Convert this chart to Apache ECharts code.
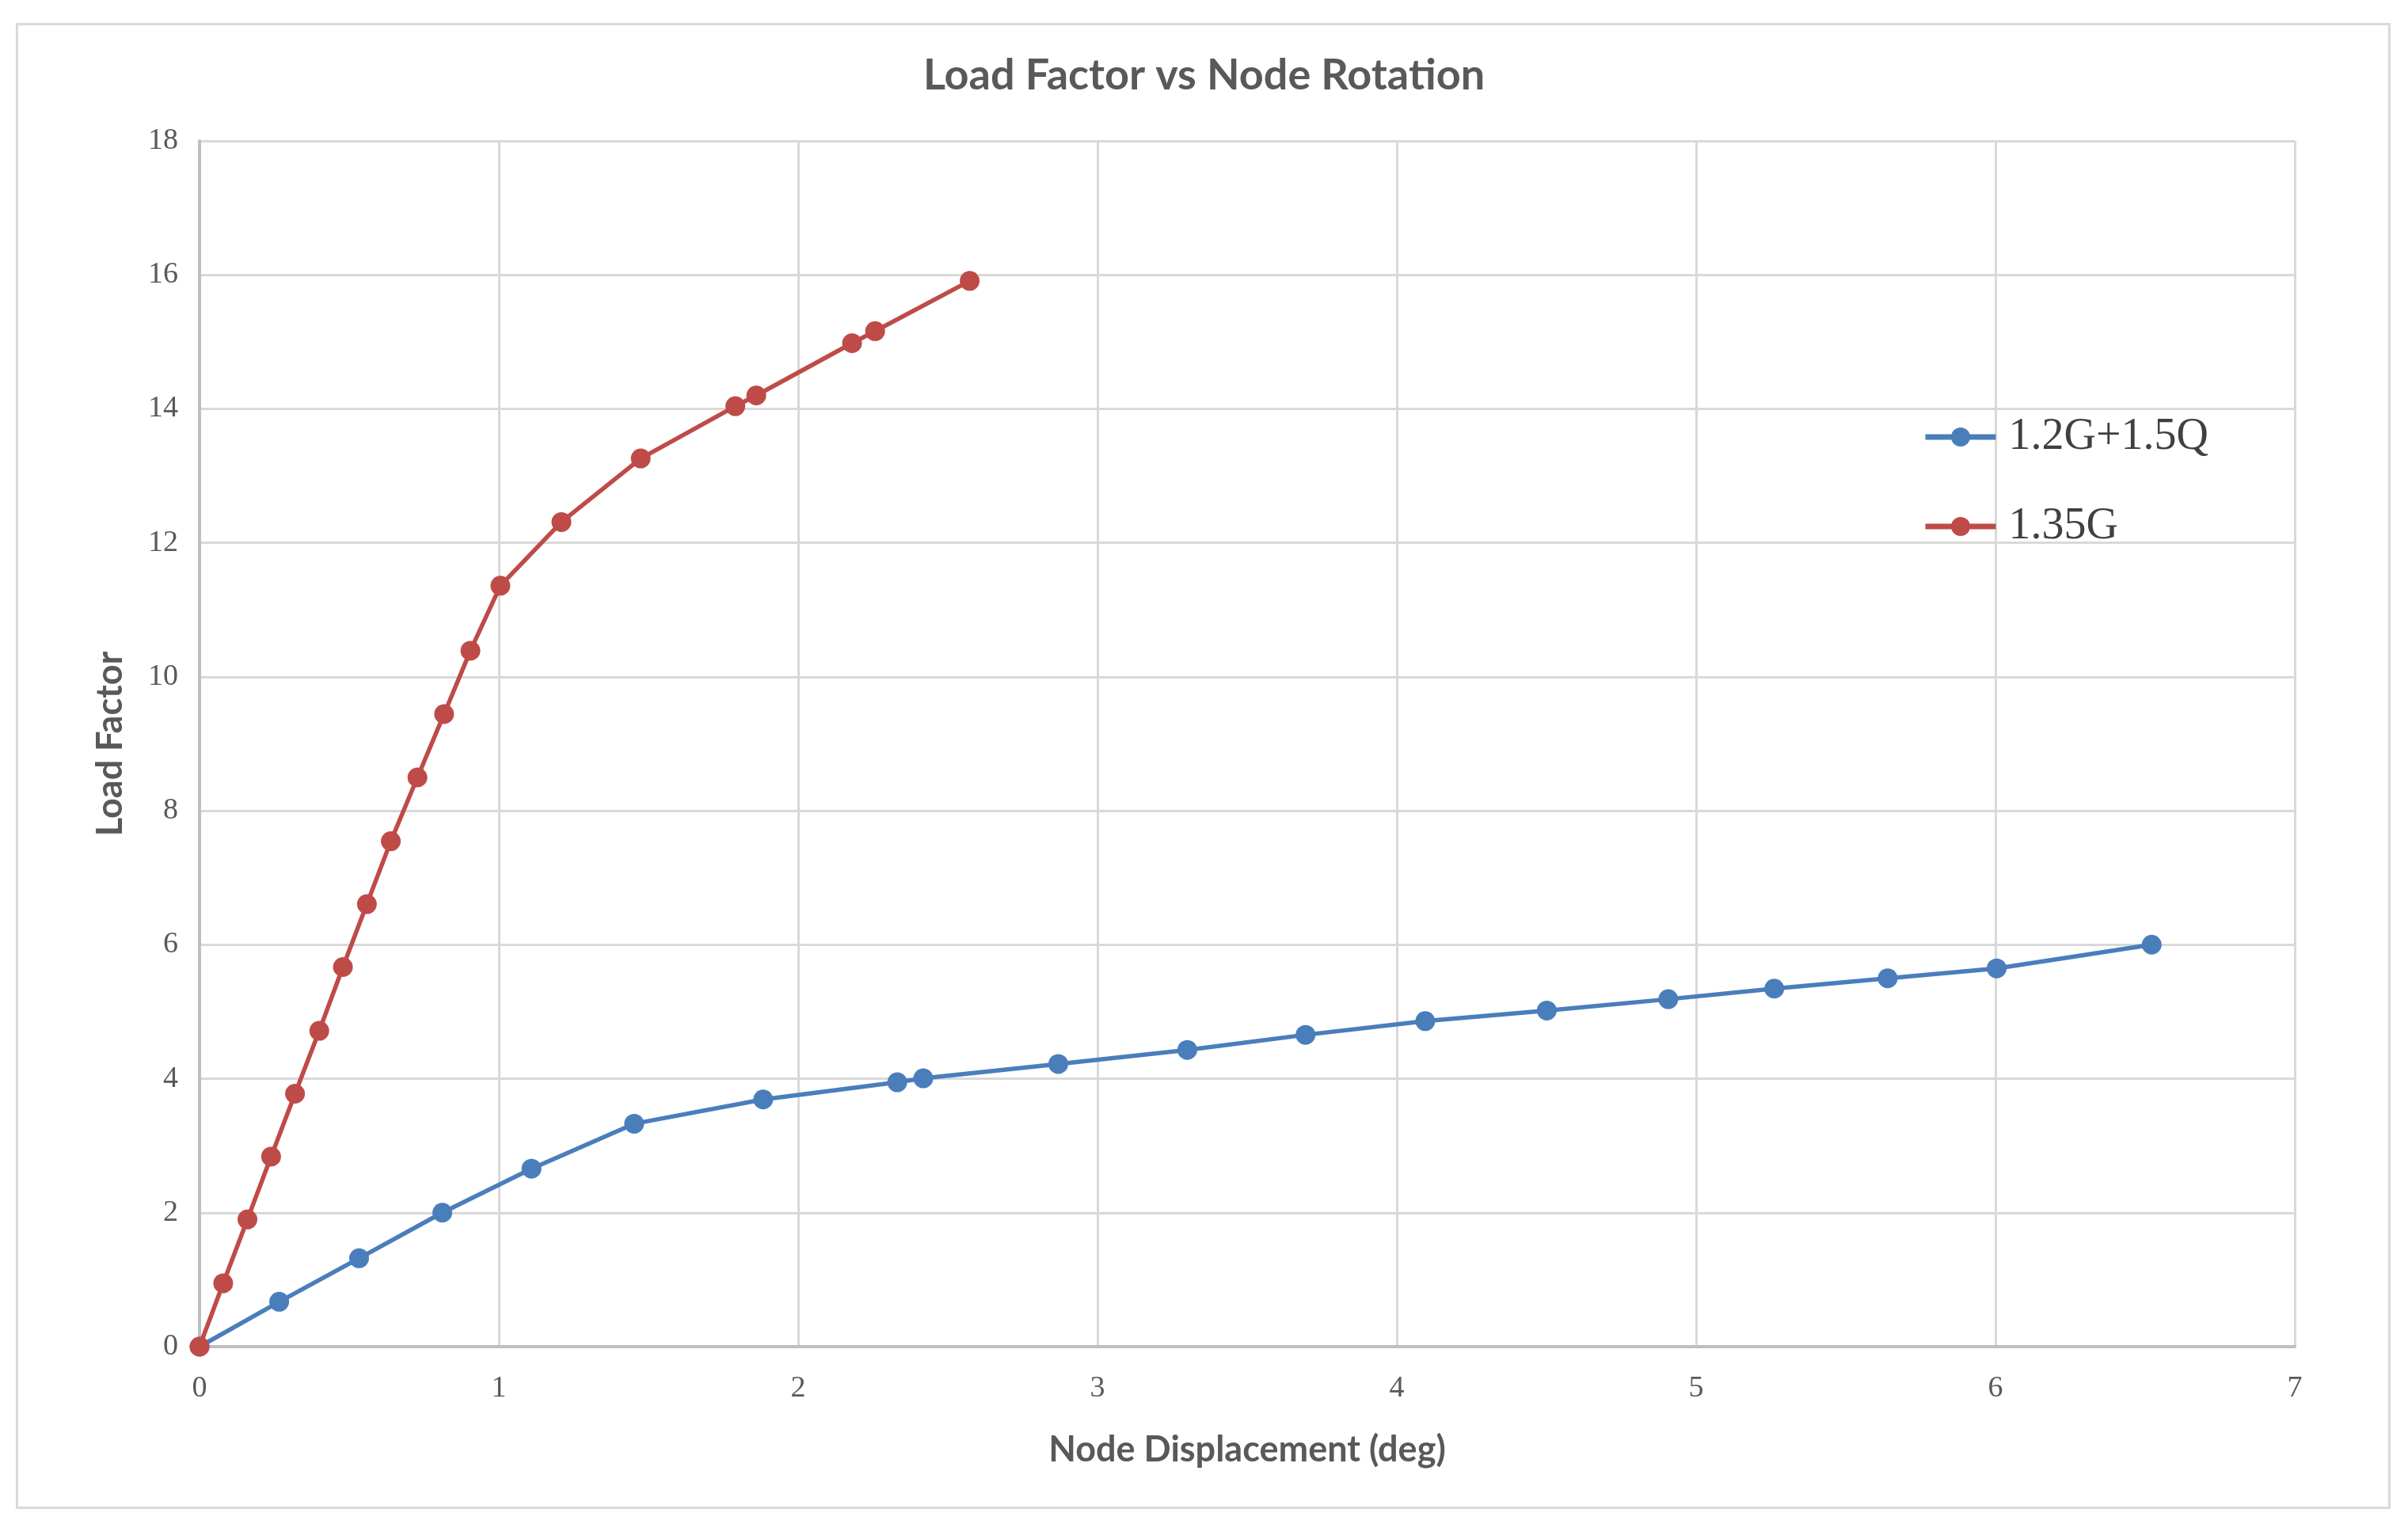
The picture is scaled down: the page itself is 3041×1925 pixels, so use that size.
<!DOCTYPE html>
<html><head><meta charset="utf-8">
<script src="https://cdn.jsdelivr.net/npm/echarts@6/dist/echarts.min.js"></script>
<style>html,body{margin:0;padding:0;background:#fff}#c{width:3041px;height:1925px}</style>
</head><body><div id="c"></div>
<script>
const chartTitle = 'Load Factor vs Node Rotation';
const xAxisName = 'Node Displacement (deg)';
const yAxisName = 'Load Factor';
const xTicks = [0, 1, 2, 3, 4, 5, 6, 7];
const yTicks = [0, 2, 4, 6, 8, 10, 12, 14, 16, 18];
const seriesNames = ['1.2G+1.5Q', '1.35G'];

const blueX = [0, 0.266, 0.533, 0.811, 1.109, 1.452, 1.883, 2.331, 2.418, 2.869, 3.30, 3.695, 4.095, 4.501, 4.907, 5.261, 5.64, 6.004, 6.522];
const blueY = [0, 0.67, 1.32, 2.00, 2.657, 3.328, 3.69, 3.947, 4.006, 4.22, 4.43, 4.655, 4.86, 5.018, 5.187, 5.345, 5.50, 5.647, 6.001];

const redX = [0, 0.079, 0.160, 0.239, 0.319, 0.400, 0.479, 0.559, 0.639, 0.728, 0.817, 0.905, 1.005, 1.209, 1.474, 1.790, 1.860, 2.180, 2.257, 2.573];
const redY = [0, 0.946, 1.899, 2.837, 3.776, 4.715, 5.667, 6.606, 7.545, 8.498, 9.444, 10.39, 11.36, 12.31, 13.26, 14.04, 14.20, 14.98, 15.16, 15.91];

const pairs = (xs, ys) => xs.map((x, i) => [x, ys[i]]);

const chart = echarts.init(document.getElementById('c'));
const labelFont = { fontFamily: 'Liberation Serif', fontSize: 38, color: '#595959' };
const nameFont = { fontFamily: 'Lato', fontWeight: 'bold', fontSize: 45, color: '#595959' };

chart.setOption({
  backgroundColor: '#ffffff',
  animation: false,
  graphic: [{
    type: 'rect', left: 19, top: 28, z: -1,
    shape: { width: 2996, height: 1874 },
    style: { fill: 'none', stroke: '#d9d9d9', lineWidth: 3 }
  }],
  title: {
    text: chartTitle, left: 'center', top: 64,
    textStyle: { fontFamily: 'Lato', fontWeight: 'bold', fontSize: 54, color: '#595959' }
  },
  legend: {
    data: seriesNames, orient: 'vertical', left: 2428, top: 524, padding: 0,
    itemWidth: 89, itemHeight: 30, itemGap: 57,
    lineStyle: { width: 7 },
    textStyle: { fontFamily: 'Liberation Serif', fontSize: 56, color: '#404040', padding: [0, 0, 0, 11] }
  },
  grid: { left: 252, right: 143, top: 178, bottom: 224, containLabel: false },
  xAxis: {
    type: 'value', min: xTicks[0], max: xTicks[xTicks.length - 1], interval: 1,
    name: xAxisName, nameLocation: 'middle', nameGap: 108, nameTextStyle: nameFont,
    axisLine: { show: true, lineStyle: { color: '#bfbfbf', width: 4 } },
    axisTick: { show: false },
    axisLabel: Object.assign({ margin: 34 }, labelFont),
    splitLine: { show: true, lineStyle: { color: '#d9d9d9', width: 3 } }
  },
  yAxis: {
    type: 'value', min: yTicks[0], max: yTicks[yTicks.length - 1], interval: 2,
    name: yAxisName, nameLocation: 'middle', nameGap: 90, nameTextStyle: nameFont,
    axisLine: { show: true, lineStyle: { color: '#bfbfbf', width: 4 } },
    axisTick: { show: false },
    axisLabel: Object.assign({ margin: 27 }, labelFont),
    splitLine: { show: true, lineStyle: { color: '#d9d9d9', width: 3 } }
  },
  series: [
    {
      name: seriesNames[0], type: 'line', data: pairs(blueX, blueY),
      symbol: 'circle', symbolSize: 25, color: '#4a7ebb',
      lineStyle: { width: 5.5, color: '#4a7ebb' }, itemStyle: { color: '#4a7ebb' }, z: 3
    },
    {
      name: seriesNames[1], type: 'line', data: pairs(redX, redY),
      symbol: 'circle', symbolSize: 25, color: '#be4b48',
      lineStyle: { width: 5.5, color: '#be4b48' }, itemStyle: { color: '#be4b48' }, z: 4
    }
  ]
});
</script>
</body></html>
